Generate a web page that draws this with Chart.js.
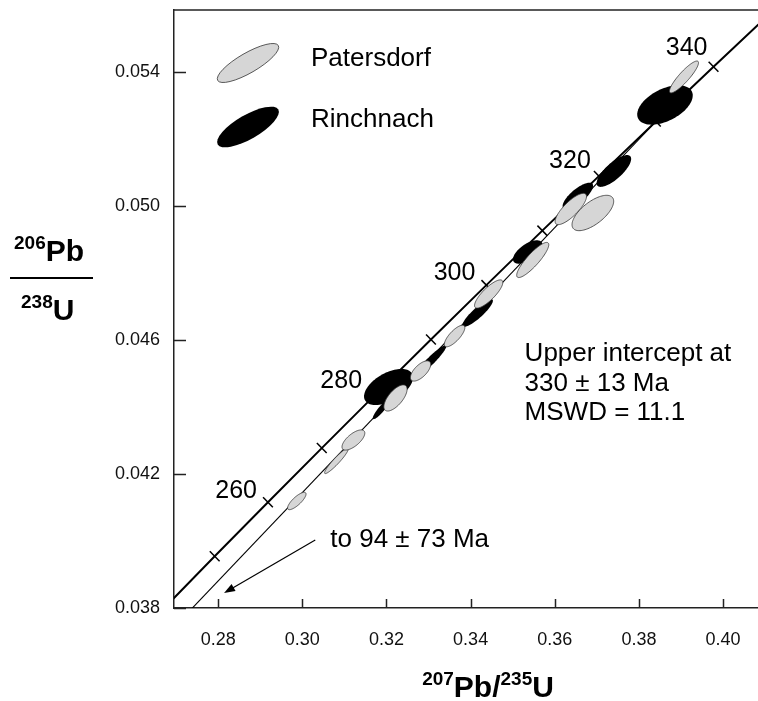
<!DOCTYPE html>
<html>
<head>
<meta charset="utf-8">
<script src="https://cdn.jsdelivr.net/npm/chart.js@4.4.0/dist/chart.umd.min.js"></script>
<style>
  html, body { margin: 0; padding: 0; background: #fff; }
  #chart { display: block; }
</style>
</head>
<body>
<canvas id="chart" width="758" height="701"></canvas>
<script>
// Ticks de los ejes
const xTicks = [0.28, 0.30, 0.32, 0.34, 0.36, 0.38, 0.40];
const yTicks = [0.038, 0.042, 0.046, 0.050, 0.054];

// Concordia: edad (Ma) y razones 207Pb/235U, 206Pb/238U
const concordiaAge = [240, 250, 260, 270, 280, 290, 300, 310, 320, 330, 340, 350];
const concordiaX = [0.26664, 0.27917, 0.29183, 0.30462, 0.31753, 0.33057, 0.34374, 0.35704, 0.37047, 0.38403, 0.39773, 0.41157];
const concordiaY = [0.037932, 0.039543, 0.041157, 0.042773, 0.044392, 0.046013, 0.047638, 0.049264, 0.050892, 0.052524, 0.054158, 0.055795];
const labelAges = [260, 280, 300, 320, 340];

// Discordia (hacia el intercepto inferior de 94 Ma hasta el superior de 330 Ma)
const discordiaX = [0.2700, 0.3840];
const discordiaY = [0.03749, 0.05252];

// Elipses de error: Patersdorf (gris)
const patX = [0.29869, 0.30810, 0.31214, 0.32214, 0.32810, 0.33619, 0.34429, 0.35476, 0.36381, 0.36905, 0.39071];
const patY = [0.041194, 0.042388, 0.043015, 0.044269, 0.045075, 0.046119, 0.047373, 0.048388, 0.049910, 0.049791, 0.053851];
const patErrX = [0.00219, 0.00281, 0.00271, 0.00276, 0.00241, 0.00243, 0.00336, 0.00381, 0.00373, 0.00495, 0.00345];
const patErrY = [0.000259, 0.000376, 0.000301, 0.000390, 0.000302, 0.000322, 0.000421, 0.000524, 0.000467, 0.000528, 0.000476];
const patRho = [0.80, 0.94, 0.68, 0.67, 0.65, 0.77, 0.82, 0.87, 0.80, 0.66, 0.89];

// Elipses de error: Rinchnach (negro)
const rinX = [0.31881, 0.32048, 0.33048, 0.34167, 0.35357, 0.36548, 0.37405, 0.38619];
const rinY = [0.043940, 0.044597, 0.045373, 0.046806, 0.048627, 0.050299, 0.051045, 0.053015];
const rinErrX = [0.00206, 0.00581, 0.00376, 0.00362, 0.00350, 0.00362, 0.00410, 0.00660];
const rinErrY = [0.000303, 0.000540, 0.000472, 0.000415, 0.000349, 0.000397, 0.000475, 0.000588];
const rinRho = [0.90, 0.52, 0.94, 0.88, 0.62, 0.76, 0.76, 0.48];

const FONT = 'Arial, "Liberation Sans", sans-serif';

const toPoints = (xs, ys) => xs.map((x, i) => ({ x: x, y: ys[i] }));
const toEllipses = (xs, ys, ex, ey, rho) =>
  xs.map((x, i) => ({ x: x, y: ys[i], ex: ex[i], ey: ey[i], rho: rho[i] }));

// Dibuja una elipse de error a partir del centro, errores y correlación
function drawErrorEllipse(ctx, xs, ys, d, fill, stroke) {
  const cx = xs.getPixelForValue(d.x);
  const cy = ys.getPixelForValue(d.y);
  const w = Math.abs(xs.getPixelForValue(d.x + d.ex) - cx);
  const h = Math.abs(ys.getPixelForValue(d.y + d.ey) - cy);
  const k = Math.sqrt(1 - d.rho * d.rho);
  ctx.beginPath();
  for (let i = 0; i <= 90; i++) {
    const t = i / 90 * Math.PI * 2;
    const px = cx + w * Math.cos(t);
    const py = cy - h * (d.rho * Math.cos(t) + k * Math.sin(t));
    if (i === 0) ctx.moveTo(px, py); else ctx.lineTo(px, py);
  }
  ctx.closePath();
  ctx.fillStyle = fill;
  ctx.fill();
  if (stroke) {
    ctx.strokeStyle = stroke;
    ctx.lineWidth = 0.8;
    ctx.stroke();
  }
}

// Texto con superíndices: partes [texto, esSuperindice]
function drawSupText(ctx, parts, x, y, bigSize, smallSize, rise) {
  let cx = x;
  ctx.textAlign = 'left';
  ctx.textBaseline = 'alphabetic';
  parts.forEach(([txt, sup]) => {
    ctx.font = 'bold ' + (sup ? smallSize : bigSize) + 'px ' + FONT;
    ctx.fillText(txt, cx, sup ? y - rise : y);
    cx += ctx.measureText(txt).width;
  });
  return cx - x;
}

function measureSupText(ctx, parts, bigSize, smallSize) {
  let w = 0;
  parts.forEach(([txt, sup]) => {
    ctx.font = 'bold ' + (sup ? smallSize : bigSize) + 'px ' + FONT;
    w += ctx.measureText(txt).width;
  });
  return w;
}

const concordiaPlugin = {
  id: 'concordiaExtras',
  afterDatasetsDraw(chart) {
    const { ctx, chartArea: area, scales: { x: xs, y: ys } } = chart;

    // Elipses (negras primero, grises encima)
    ctx.save();
    ctx.beginPath();
    ctx.rect(area.left, area.top, area.right - area.left, area.bottom - area.top);
    ctx.clip();
    chart.data.datasets.forEach(ds => {
      if (ds.ellipse === 'black') ds.data.forEach(d => drawErrorEllipse(ctx, xs, ys, d, '#000', null));
    });
    chart.data.datasets.forEach(ds => {
      if (ds.ellipse === 'gray') ds.data.forEach(d => drawErrorEllipse(ctx, xs, ys, d, '#d6d6d6', '#333'));
    });
    ctx.restore();

    ctx.save();
    ctx.fillStyle = '#000';
    ctx.strokeStyle = '#000';

    // Etiquetas de edad sobre la concordia
    const ageOffsets = { 260: [-11, -4], 280: [-14, -6], 300: [-11, -5], 320: [-8, -8], 340: [-6, -12] };
    ctx.font = '25px ' + FONT;
    ctx.textAlign = 'right';
    ctx.textBaseline = 'alphabetic';
    labelAges.forEach(age => {
      const i = concordiaAge.indexOf(age);
      const px = xs.getPixelForValue(concordiaX[i]);
      const py = ys.getPixelForValue(concordiaY[i]);
      const off = ageOffsets[age];
      ctx.fillText(String(age), px + off[0], py + off[1]);
    });

    // Texto del intercepto superior
    ctx.font = '26px ' + FONT;
    ctx.textAlign = 'left';
    const tx = xs.getPixelForValue(0.35283);
    ctx.fillText('Upper intercept at', tx, ys.getPixelForValue(0.045373));
    ctx.fillText('330 \u00b1 13 Ma', tx, ys.getPixelForValue(0.044478));
    ctx.fillText('MSWD = 11.1', tx, ys.getPixelForValue(0.043612));

    // Flecha al intercepto inferior
    ctx.fillText('to 94 \u00b1 73 Ma', xs.getPixelForValue(0.30664), ys.getPixelForValue(0.039821));
    const ax0 = xs.getPixelForValue(0.30307), ay0 = ys.getPixelForValue(0.040030);
    const ax1 = xs.getPixelForValue(0.28140), ay1 = ys.getPixelForValue(0.038448);
    const ang = Math.atan2(ay1 - ay0, ax1 - ax0);
    ctx.lineWidth = 1.2;
    ctx.beginPath();
    ctx.moveTo(ax0, ay0);
    ctx.lineTo(ax1 - 6 * Math.cos(ang), ay1 - 6 * Math.sin(ang));
    ctx.stroke();
    ctx.beginPath();
    ctx.moveTo(ax1, ay1);
    ctx.lineTo(ax1 - 11 * Math.cos(ang) + 4 * Math.sin(ang), ay1 - 11 * Math.sin(ang) - 4 * Math.cos(ang));
    ctx.lineTo(ax1 - 11 * Math.cos(ang) - 4 * Math.sin(ang), ay1 - 11 * Math.sin(ang) + 4 * Math.cos(ang));
    ctx.closePath();
    ctx.fill();

    // Leyenda
    ctx.beginPath();
    ctx.ellipse(248, 63, 35, 10, -30 * Math.PI / 180, 0, Math.PI * 2);
    ctx.fillStyle = '#d6d6d6';
    ctx.fill();
    ctx.strokeStyle = '#333';
    ctx.lineWidth = 0.8;
    ctx.stroke();
    ctx.beginPath();
    ctx.ellipse(248, 127, 35, 12, -30 * Math.PI / 180, 0, Math.PI * 2);
    ctx.fillStyle = '#000';
    ctx.fill();
    ctx.font = '26px ' + FONT;
    ctx.fillText('Patersdorf', 311, 66);
    ctx.fillText('Rinchnach', 311, 127);
    ctx.restore();
  },
  afterDraw(chart) {
    const { ctx, chartArea: area, scales: { x: xs, y: ys } } = chart;
    ctx.save();
    ctx.strokeStyle = '#222';
    ctx.lineWidth = 1.5;

    // Borde superior
    ctx.beginPath();
    ctx.moveTo(area.left, area.top);
    ctx.lineTo(area.right, area.top);
    ctx.stroke();

    // Marcas de los ejes hacia dentro
    ctx.beginPath();
    yTicks.forEach(v => {
      const py = Math.round(ys.getPixelForValue(v)) + 0.5;
      ctx.moveTo(area.left, py);
      ctx.lineTo(area.left + 12, py);
    });
    xTicks.forEach(v => {
      const px = Math.round(xs.getPixelForValue(v)) + 0.5;
      ctx.moveTo(px, area.bottom);
      ctx.lineTo(px, area.bottom - 9);
    });
    ctx.stroke();

    // Títulos de los ejes
    ctx.fillStyle = '#000';
    const xTitle = [['207', true], ['Pb/', false], ['235', true], ['U', false]];
    const wTitle = measureSupText(ctx, xTitle, 30, 19);
    drawSupText(ctx, xTitle, 488 - wTitle / 2, 697, 30, 19, 12);

    drawSupText(ctx, [['206', true], ['Pb', false]], 14, 261, 30, 19, 12);
    ctx.lineWidth = 2;
    ctx.strokeStyle = '#000';
    ctx.beginPath();
    ctx.moveTo(10, 278);
    ctx.lineTo(93, 278);
    ctx.stroke();
    drawSupText(ctx, [['238', true], ['U', false]], 21, 320, 30, 19, 12);
    ctx.restore();
  }
};

const ctx = document.getElementById('chart').getContext('2d');

new Chart(ctx, {
  type: 'scatter',
  data: {
    datasets: [
      {
        type: 'line',
        label: 'Concordia',
        data: toPoints(concordiaX, concordiaY),
        borderColor: '#000',
        borderWidth: 2,
        pointRadius: 0,
        tension: 0
      },
      {
        label: 'Marcas de edad',
        data: toPoints(concordiaX, concordiaY),
        showLine: false,
        pointStyle: 'line',
        pointRadius: 7,
        pointRotation: 45.6,
        pointBorderColor: '#000',
        pointBorderWidth: 1.5
      },
      {
        type: 'line',
        label: 'Discordia',
        data: toPoints(discordiaX, discordiaY),
        borderColor: '#000',
        borderWidth: 1.1,
        pointRadius: 0
      },
      {
        label: 'Rinchnach',
        ellipse: 'black',
        data: toEllipses(rinX, rinY, rinErrX, rinErrY, rinRho),
        pointRadius: 0
      },
      {
        label: 'Patersdorf',
        ellipse: 'gray',
        data: toEllipses(patX, patY, patErrX, patErrY, patRho),
        pointRadius: 0
      }
    ]
  },
  options: {
    responsive: false,
    animation: false,
    layout: { autoPadding: false, padding: { top: 10, left: 0, right: 0, bottom: 0 } },
    plugins: {
      legend: { display: false },
      tooltip: { enabled: false }
    },
    scales: {
      x: {
        type: 'linear',
        min: 0.2695,
        max: 0.4083,
        afterBuildTicks: axis => { axis.ticks = xTicks.map(v => ({ value: v })); },
        afterFit: scale => {
          scale.height = 93;
          scale.paddingLeft = 0;
          scale.paddingRight = 0;
        },
        grid: { display: false, drawTicks: false },
        border: { display: true, color: '#222', width: 1.5 },
        ticks: {
          padding: 21,
          color: '#111',
          font: { family: FONT, size: 18 },
          callback: value => value.toFixed(2)
        }
      },
      y: {
        type: 'linear',
        min: 0.038,
        max: 0.05585,
        afterBuildTicks: axis => { axis.ticks = yTicks.map(v => ({ value: v })); },
        afterFit: scale => {
          scale.width = 174;
          scale.paddingTop = 0;
          scale.paddingBottom = 0;
        },
        grid: { display: false, drawTicks: false },
        border: { display: true, color: '#222', width: 1.5 },
        ticks: {
          padding: 14,
          color: '#111',
          font: { family: FONT, size: 18 },
          callback: value => value.toFixed(3)
        }
      }
    }
  },
  plugins: [concordiaPlugin]
});
</script>
</body>
</html>
